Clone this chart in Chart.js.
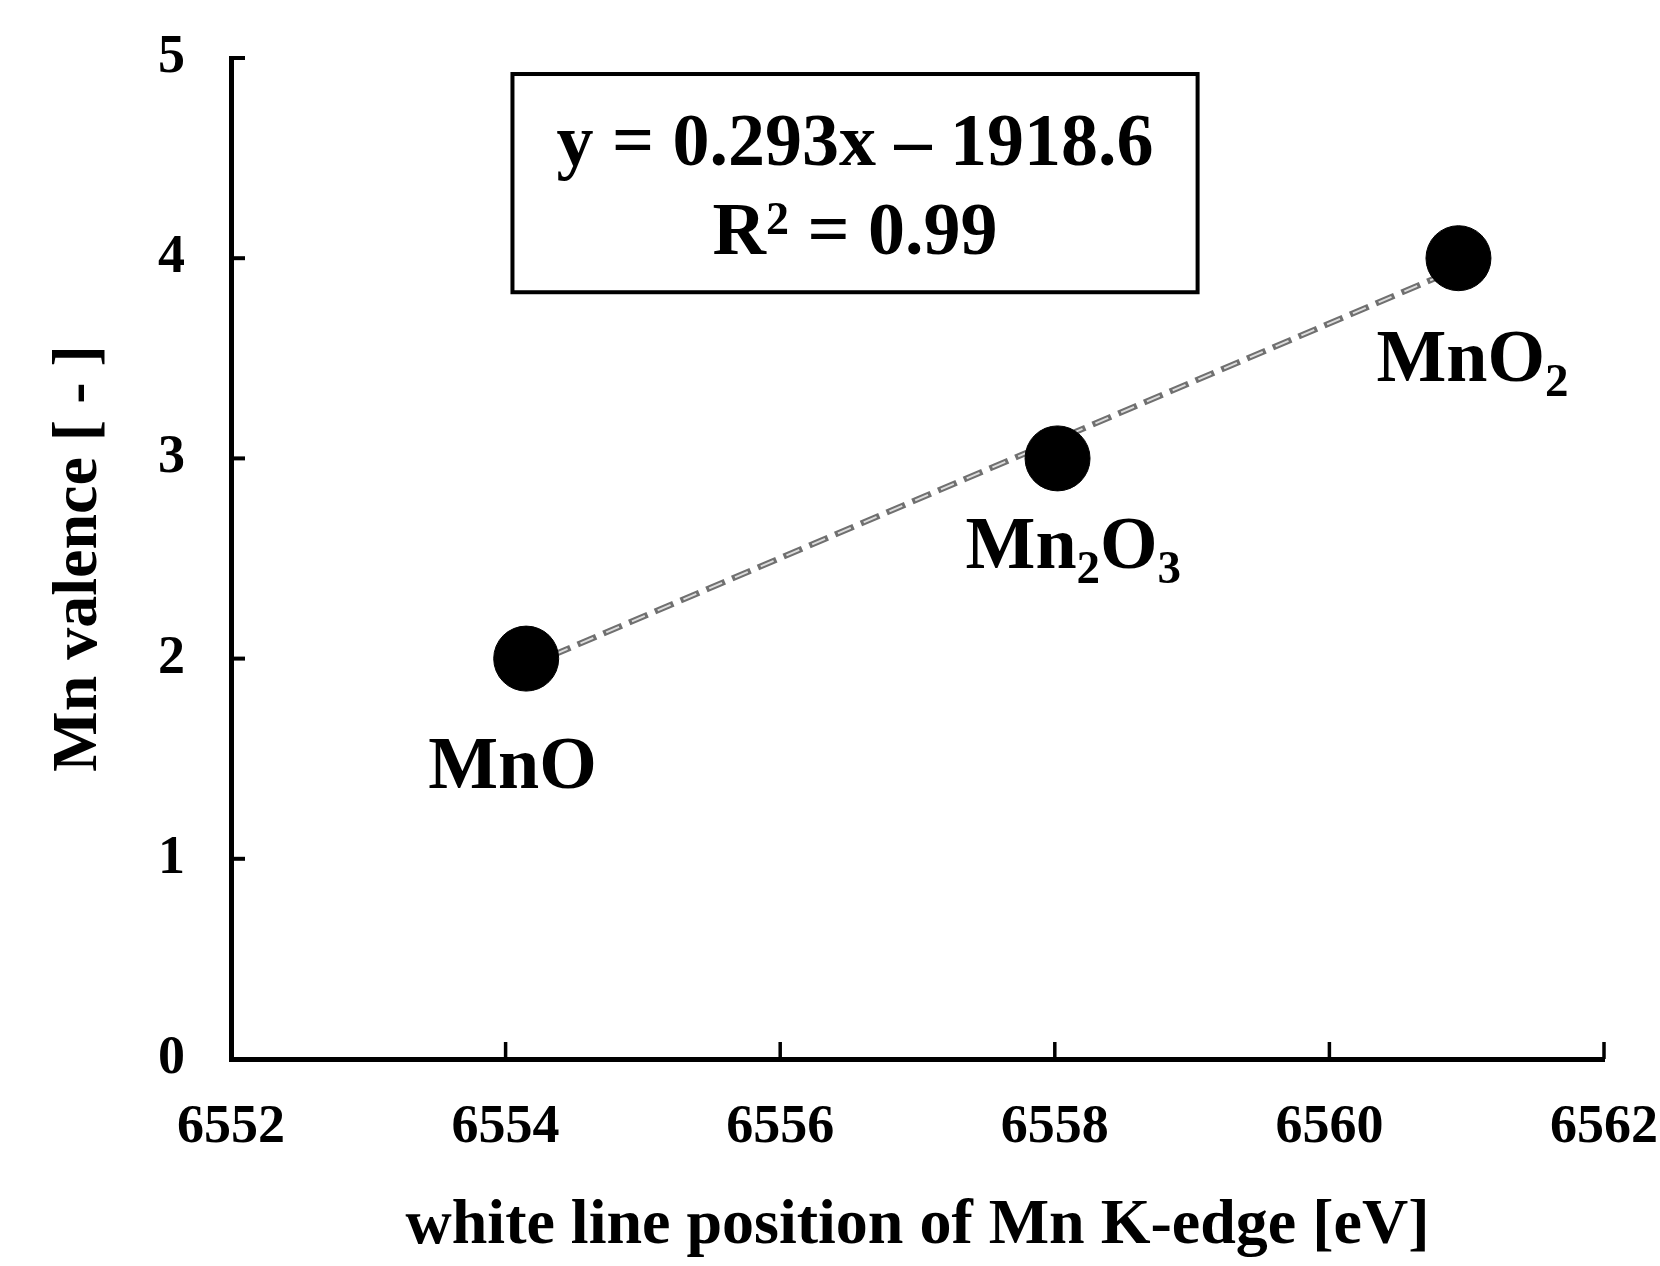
<!DOCTYPE html>
<html>
<head>
<meta charset="utf-8">
<script src="https://cdn.jsdelivr.net/npm/chart.js@4.4.1/dist/chart.umd.min.js"></script>
<style>
  html, body { margin: 0; padding: 0; background: #fff; }
  #wrap { width: 1660px; height: 1266px; position: relative; }
</style>
</head>
<body>
<div id="wrap"><canvas id="c" width="1660" height="1266"></canvas></div>
<script>
// ---- data ----
const compounds = ['MnO', 'Mn2O3', 'MnO2'];
const whiteLine = [6554.15, 6558.02, 6560.94];   // eV
const valence = [2, 3, 4];
const trendX = [6554.15, 6560.94];
const trendY = [1.96, 3.95];
const xTicks = [6552, 6554, 6556, 6558, 6560, 6562];
const yTicks = [0, 1, 2, 3, 4, 5];
const eqLine1 = 'y = 0.293x \u2013 1918.6';
const eqLine2 = ['R', '2', ' = 0.99'];
const xTitle = 'white line position of Mn K-edge [eV]';
const yTitle = 'Mn valence [ - ]';

const FONT = '"Liberation Serif", "Times New Roman", serif';

const points = whiteLine.map((x, i) => ({ x: x, y: valence[i] }));
const trend = trendX.map((x, i) => ({ x: x, y: trendY[i] }));

// label offsets relative to each point (pixels)
const labelOffsets = [[-98, 129], [-92, 110], [-82, 123]];

function drawFormula(ctx, text, x, y, size) {
  // digits become subscripts
  const parts = text.match(/[A-Za-z]+|\d+/g);
  let cx = x;
  ctx.textAlign = 'left';
  ctx.textBaseline = 'alphabetic';
  parts.forEach(p => {
    const sub = /^\d+$/.test(p);
    ctx.font = 'bold ' + (sub ? Math.round(size * 0.64) : size) + 'px ' + FONT;
    ctx.fillText(p, cx, sub ? y + 15 : y);
    cx += ctx.measureText(p).width;
  });
}

const overlay = {
  id: 'overlay',
  afterDraw(chart) {
    const ctx = chart.ctx;
    const xs = chart.scales.x, ys = chart.scales.y;
    const area = chart.chartArea;
    ctx.save();
    ctx.strokeStyle = '#000';
    ctx.fillStyle = '#000';
    // inward tick marks
    ctx.lineWidth = 4;
    yTicks.forEach(v => {
      const py = ys.getPixelForValue(v);
      ctx.beginPath(); ctx.moveTo(area.left, py); ctx.lineTo(area.left + 14, py); ctx.stroke();
    });
    ctx.lineWidth = 3.5;
    xTicks.forEach(v => {
      const px = xs.getPixelForValue(v);
      ctx.beginPath(); ctx.moveTo(px, area.bottom); ctx.lineTo(px, area.bottom - 17); ctx.stroke();
    });

    // equation box
    const bx0 = xs.getPixelForValue(6554.05), bx1 = xs.getPixelForValue(6559.04);
    const by0 = ys.getPixelForValue(4.92), by1 = ys.getPixelForValue(3.83);
    ctx.lineWidth = 4;
    ctx.strokeRect(bx0, by0, bx1 - bx0, by1 - by0);
    const cx = (bx0 + bx1) / 2;
    ctx.textAlign = 'center';
    ctx.textBaseline = 'alphabetic';
    ctx.font = 'bold 74px ' + FONT;
    ctx.fillText(eqLine1, cx, by0 + 91);
    // R^2 line
    ctx.font = 'bold 74px ' + FONT;
    const wR = ctx.measureText(eqLine2[0]).width;
    const wRest = ctx.measureText(eqLine2[2]).width;
    ctx.font = 'bold 46px ' + FONT;
    const wSup = ctx.measureText(eqLine2[1]).width;
    let sx = cx - (wR + wSup + wRest) / 2;
    const base2 = by0 + 180;
    ctx.textAlign = 'left';
    ctx.font = 'bold 74px ' + FONT;
    ctx.fillText(eqLine2[0], sx, base2); sx += wR;
    ctx.font = 'bold 46px ' + FONT;
    ctx.fillText(eqLine2[1], sx, base2 - 20); sx += wSup;
    ctx.font = 'bold 74px ' + FONT;
    ctx.fillText(eqLine2[2], sx, base2);

    // compound labels
    compounds.forEach((name, i) => {
      const px = xs.getPixelForValue(whiteLine[i]);
      const py = ys.getPixelForValue(valence[i]);
      drawFormula(ctx, name, px + labelOffsets[i][0], py + labelOffsets[i][1], 74);
    });
    ctx.restore();
  }
};

new Chart(document.getElementById('c'), {
  type: 'scatter',
  data: {
    datasets: [
      {
        label: 'standards',
        data: points,
        backgroundColor: '#000',
        borderColor: '#000',
        pointRadius: 32.5,
        pointHoverRadius: 32.5,
        showLine: false,
        clip: false
      },
      {
        label: 'fit inner',
        data: trend,
        showLine: true,
        borderColor: '#dcdcdc',
        borderWidth: 2,
        borderDash: [14, 14],
        borderDashOffset: -3,
        pointRadius: 0,
        fill: false
      },
      {
        label: 'fit',
        data: trend,
        showLine: true,
        borderColor: '#707070',
        borderWidth: 6,
        borderDash: [20, 8],
        pointRadius: 0,
        fill: false
      }
    ]
  },
  options: {
    responsive: false,
    animation: false,
    events: [],
    layout: { padding: { top: 58, right: 56, bottom: 0, left: 0 } },
    plugins: { legend: { display: false }, tooltip: { enabled: false } },
    scales: {
      x: {
        type: 'linear',
        min: 6552, max: 6562,
        afterBuildTicks(scale) { scale.ticks = xTicks.map(v => ({ value: v })); },
        afterFit(scale) { scale.height = 207; scale.paddingLeft = 0; scale.paddingRight = 0; },
        grid: { display: false, drawTicks: false },
        border: { display: true, color: '#000', width: 5 },
        ticks: {
          color: '#000',
          padding: 37,
          maxRotation: 0,
          font: { family: FONT, size: 54, weight: 'bold' },
          callback: v => String(v)
        },
        title: {
          display: true,
          text: xTitle,
          color: '#000',
          font: { family: FONT, size: 64, weight: 'bold' },
          padding: { top: 0, bottom: 1 }
        }
      },
      y: {
        type: 'linear',
        min: 0, max: 5,
        afterBuildTicks(scale) { scale.ticks = yTicks.map(v => ({ value: v })); },
        afterFit(scale) { scale.width = 231; scale.paddingTop = 0; scale.paddingBottom = 0; },
        grid: { display: false, drawTicks: false },
        border: { display: true, color: '#000', width: 5 },
        ticks: {
          color: '#000',
          padding: 46,
          font: { family: FONT, size: 54, weight: 'bold' },
          callback: v => String(v)
        },
        title: {
          display: true,
          text: yTitle,
          color: '#000',
          font: { family: FONT, size: 64, weight: 'bold' },
          padding: { top: 41, bottom: 0 }
        }
      }
    }
  },
  plugins: [overlay]
});
</script>
</body>
</html>
